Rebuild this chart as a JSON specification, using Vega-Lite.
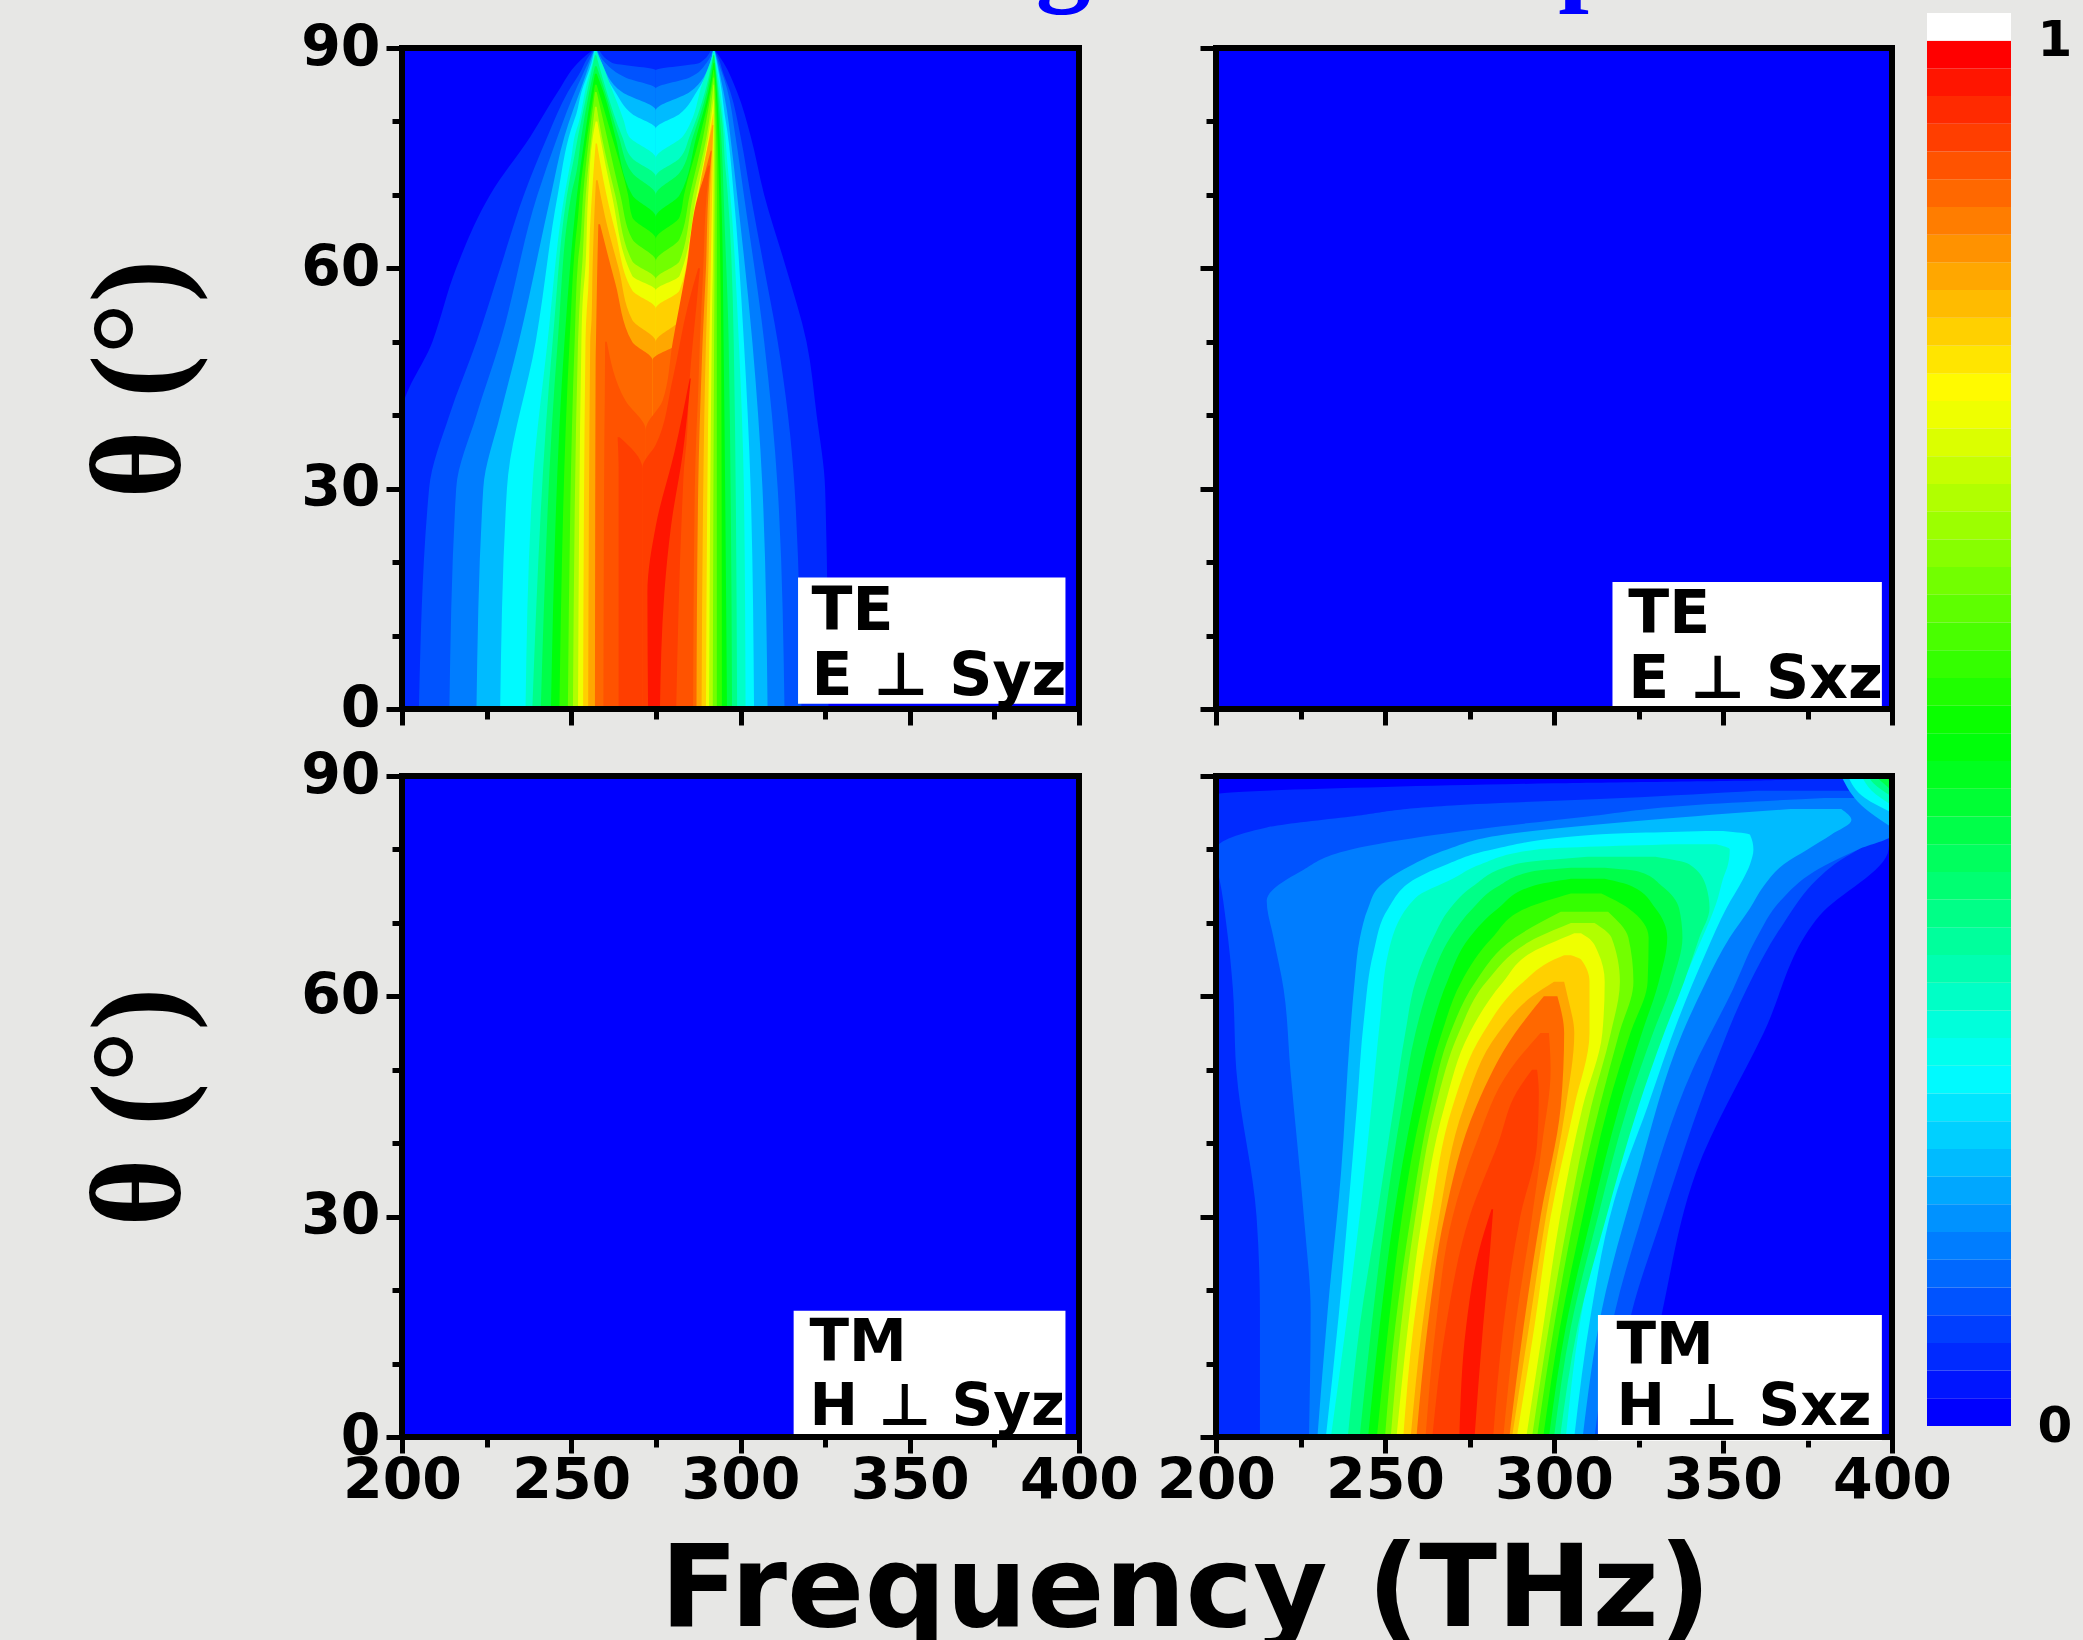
{"$schema":"https://vega.github.io/schema/vega-lite/v6.json","background":"#e7e7e5","padding":{"left":75,"top":-97,"right":100,"bottom":100},
"title":{"text":"g\u00a0\u00a0\u00a0\u00a0\u00a0\u00a0\u00a0\u00a0\u00a0\u00a0\u00a0\u00a0\u00a0\u00a0\u00a0\u00a0\u00a0p","orient":"top","anchor":"start","dx":960,"offset":-1,"font":"Liberation Serif","fontWeight":"bold","fontSize":110,"color":"#0000ff"},
"config":{"view":{"fill":"#0000ff","stroke":null},"axis":{"grid":false,"domain":false,"tickColor":"black","tickWidth":5,"labelFont":"DejaVu Sans","labelFontWeight":"bold","labelFontSize":57,"labelColor":"black","labelOverlap":false,"labelBound":false,"labelFlush":false,"zindex":1}},
"datasets":{"f":[{"f":200,"f2":400,"t":0,"t2":90}],
"a":[
{"v":0.04,"t":0,"a":200,"b":326},{"v":0.04,"t":30,"a":200,"b":325},{"v":0.04,"t":40,"a":200,"b":322.5},{"v":0.04,"t":50,"a":209,"b":319.5},{"v":0.04,"t":60,"a":216,"b":313.5},{"v":0.04,"t":70,"a":226,"b":307},{"v":0.04,"t":78,"a":238,"b":303},{"v":0.04,"t":84,"a":246,"b":299},{"v":0.04,"t":88,"a":252,"b":295},{"v":0.04,"t":90,"a":257,"b":292},
{"v":0.08,"s":"L","t":0,"a":205,"b":275},{"v":0.08,"s":"L","t":30,"a":208,"b":275},{"v":0.08,"s":"L","t":40,"a":214,"b":275},{"v":0.08,"s":"L","t":50,"a":222,"b":275},{"v":0.08,"s":"L","t":60,"a":229,"b":275},{"v":0.08,"s":"L","t":70,"a":236,"b":275},{"v":0.08,"s":"L","t":78,"a":243,"b":275},{"v":0.08,"s":"L","t":84,"a":249,"b":275},{"v":0.08,"s":"L","t":87,"a":253,"b":275},{"v":0.08,"s":"L","t":88,"a":254,"b":262},{"v":0.08,"s":"L","t":90,"a":257,"b":258},
{"v":0.08,"s":"R","t":0,"a":275,"b":318},{"v":0.08,"s":"R","t":30,"a":275,"b":316},{"v":0.08,"s":"R","t":50,"a":275,"b":311},{"v":0.08,"s":"R","t":60,"a":275,"b":307},{"v":0.08,"s":"R","t":70,"a":275,"b":303},{"v":0.08,"s":"R","t":78,"a":275,"b":300},{"v":0.08,"s":"R","t":84,"a":275,"b":297},{"v":0.08,"s":"R","t":87,"a":275,"b":294.6},{"v":0.08,"s":"R","t":88,"a":288,"b":294},{"v":0.08,"s":"R","t":90,"a":291.5,"b":292},
{"v":0.13,"s":"L","t":0,"a":214,"b":275},{"v":0.13,"s":"L","t":30,"a":216,"b":275},{"v":0.13,"s":"L","t":40,"a":222,"b":275},{"v":0.13,"s":"L","t":50,"a":229,"b":275},{"v":0.13,"s":"L","t":70,"a":240,"b":275},{"v":0.13,"s":"L","t":78,"a":246,"b":275},{"v":0.13,"s":"L","t":84.5,"a":251.5,"b":275},{"v":0.13,"s":"L","t":86,"a":253,"b":266},{"v":0.13,"s":"L","t":88,"a":255,"b":260},{"v":0.13,"s":"L","t":90,"a":257,"b":257.5},
{"v":0.13,"s":"R","t":0,"a":275,"b":313},{"v":0.13,"s":"R","t":30,"a":275,"b":311},{"v":0.13,"s":"R","t":50,"a":275,"b":307},{"v":0.13,"s":"R","t":70,"a":275,"b":301},{"v":0.13,"s":"R","t":78,"a":275,"b":298.5},{"v":0.13,"s":"R","t":84.5,"a":275,"b":296},{"v":0.13,"s":"R","t":86,"a":285,"b":295},{"v":0.13,"s":"R","t":88,"a":290,"b":293.5},{"v":0.13,"s":"R","t":90,"a":292,"b":292.2},
{"v":0.19,"s":"L","t":0,"a":222,"b":275},{"v":0.19,"s":"L","t":30,"a":224,"b":275},{"v":0.19,"s":"L","t":40,"a":229,"b":275},{"v":0.19,"s":"L","t":50,"a":234.5,"b":275},{"v":0.19,"s":"L","t":70,"a":244,"b":275},{"v":0.19,"s":"L","t":78,"a":248,"b":275},{"v":0.19,"s":"L","t":81.5,"a":250.5,"b":275},{"v":0.19,"s":"L","t":84,"a":252.5,"b":265},{"v":0.19,"s":"L","t":88,"a":255.5,"b":259},{"v":0.19,"s":"L","t":90,"a":257,"b":257.4},
{"v":0.19,"s":"R","t":0,"a":275,"b":308},{"v":0.19,"s":"R","t":30,"a":275,"b":306.5},{"v":0.19,"s":"R","t":50,"a":275,"b":303.5},{"v":0.19,"s":"R","t":70,"a":275,"b":299},{"v":0.19,"s":"R","t":78,"a":275,"b":297},{"v":0.19,"s":"R","t":81.5,"a":275,"b":296},{"v":0.19,"s":"R","t":84,"a":285,"b":295},{"v":0.19,"s":"R","t":88,"a":291,"b":293.2},{"v":0.19,"s":"R","t":90,"a":292,"b":292.2},
{"v":0.25,"s":"L","t":0,"a":229,"b":275},{"v":0.25,"s":"L","t":30,"a":231,"b":275},{"v":0.25,"s":"L","t":50,"a":239.5,"b":275},{"v":0.25,"s":"L","t":70,"a":246,"b":275},{"v":0.25,"s":"L","t":79,"a":250,"b":275},{"v":0.25,"s":"L","t":81,"a":251.5,"b":268},{"v":0.25,"s":"L","t":84,"a":253,"b":263},{"v":0.25,"s":"L","t":88,"a":256,"b":258.5},{"v":0.25,"s":"L","t":90,"a":257,"b":257.2},
{"v":0.25,"s":"R","t":0,"a":275,"b":304},{"v":0.25,"s":"R","t":30,"a":275,"b":303},{"v":0.25,"s":"R","t":50,"a":275,"b":301},{"v":0.25,"s":"R","t":70,"a":275,"b":298},{"v":0.25,"s":"R","t":79,"a":275,"b":296},{"v":0.25,"s":"R","t":81,"a":282,"b":295.3},{"v":0.25,"s":"R","t":84,"a":287,"b":294.5},{"v":0.25,"s":"R","t":88,"a":291.2,"b":293},{"v":0.25,"s":"R","t":90,"a":292,"b":292.1},
{"v":0.31,"s":"L","t":0,"a":236.5,"b":275},{"v":0.31,"s":"L","t":30,"a":238.5,"b":275},{"v":0.31,"s":"L","t":50,"a":243,"b":275},{"v":0.31,"s":"L","t":70,"a":248,"b":275},{"v":0.31,"s":"L","t":75,"a":250,"b":275},{"v":0.31,"s":"L","t":78,"a":251,"b":267},{"v":0.31,"s":"L","t":80,"a":252.3,"b":265.6},{"v":0.31,"s":"L","t":85,"a":254.5,"b":261.5},{"v":0.31,"s":"L","t":88,"a":256.3,"b":259},{"v":0.31,"s":"L","t":89.5,"a":257,"b":257.5},
{"v":0.31,"s":"R","t":0,"a":275,"b":301.5},{"v":0.31,"s":"R","t":30,"a":275,"b":301},{"v":0.31,"s":"R","t":50,"a":275,"b":299.5},{"v":0.31,"s":"R","t":70,"a":275,"b":297},{"v":0.31,"s":"R","t":75,"a":275,"b":296},{"v":0.31,"s":"R","t":78,"a":283,"b":295.5},{"v":0.31,"s":"R","t":80,"a":285.4,"b":295},{"v":0.31,"s":"R","t":85,"a":288.6,"b":293.8},{"v":0.31,"s":"R","t":88,"a":291,"b":292.7},{"v":0.31,"s":"R","t":89.5,"a":292,"b":292.2},
{"v":0.37,"s":"L","t":0,"a":238.5,"b":275},{"v":0.37,"s":"L","t":50,"a":244.5,"b":275},{"v":0.37,"s":"L","t":72.5,"a":249.7,"b":275},{"v":0.37,"s":"L","t":75,"a":250.8,"b":268},{"v":0.37,"s":"L","t":78,"a":252,"b":265},{"v":0.37,"s":"L","t":84,"a":254.7,"b":260.5},{"v":0.37,"s":"L","t":88,"a":256.5,"b":258},{"v":0.37,"s":"L","t":89,"a":257,"b":257.4},
{"v":0.37,"s":"R","t":0,"a":275,"b":299},{"v":0.37,"s":"R","t":50,"a":275,"b":298},{"v":0.37,"s":"R","t":72.5,"a":275,"b":295.8},{"v":0.37,"s":"R","t":75,"a":282,"b":295.3},{"v":0.37,"s":"R","t":78,"a":285,"b":295},{"v":0.37,"s":"R","t":84,"a":289.5,"b":293.6},{"v":0.37,"s":"R","t":88,"a":291.5,"b":292.5},{"v":0.37,"s":"R","t":89,"a":292,"b":292.2},
{"v":0.43,"s":"L","t":0,"a":241,"b":275},{"v":0.43,"s":"L","t":50,"a":246,"b":275},{"v":0.43,"s":"L","t":70,"a":250,"b":275},{"v":0.43,"s":"L","t":73,"a":251.5,"b":268},{"v":0.43,"s":"L","t":78,"a":253,"b":264},{"v":0.43,"s":"L","t":84,"a":255.3,"b":260},{"v":0.43,"s":"L","t":87.5,"a":257,"b":257.5},
{"v":0.43,"s":"R","t":0,"a":275,"b":297.5},{"v":0.43,"s":"R","t":50,"a":275,"b":296.5},{"v":0.43,"s":"R","t":70,"a":275,"b":295},{"v":0.43,"s":"R","t":73,"a":282,"b":294.8},{"v":0.43,"s":"R","t":78,"a":286,"b":294.3},{"v":0.43,"s":"R","t":84,"a":290,"b":293.3},{"v":0.43,"s":"R","t":89,"a":292,"b":292.2},
{"v":0.49,"s":"L","t":0,"a":244,"b":275},{"v":0.49,"s":"L","t":50,"a":248,"b":275},{"v":0.49,"s":"L","t":67,"a":251,"b":275},{"v":0.49,"s":"L","t":70,"a":251.7,"b":268},{"v":0.49,"s":"L","t":78,"a":254,"b":263},{"v":0.49,"s":"L","t":84,"a":256,"b":259.5},{"v":0.49,"s":"L","t":86.5,"a":257,"b":257.5},
{"v":0.49,"s":"R","t":0,"a":275,"b":296},{"v":0.49,"s":"R","t":50,"a":275,"b":295},{"v":0.49,"s":"R","t":67,"a":275,"b":294.5},{"v":0.49,"s":"R","t":70,"a":282,"b":294.3},{"v":0.49,"s":"R","t":78,"a":287,"b":293.8},{"v":0.49,"s":"R","t":84,"a":290.5,"b":293},{"v":0.49,"s":"R","t":88,"a":292,"b":292.3},
{"v":0.55,"s":"L","t":0,"a":246.5,"b":275},{"v":0.55,"s":"L","t":50,"a":249.5,"b":275},{"v":0.55,"s":"L","t":64,"a":251.3,"b":275},{"v":0.55,"s":"L","t":67,"a":252,"b":268},{"v":0.55,"s":"L","t":70,"a":252.5,"b":266.8},{"v":0.55,"s":"L","t":78,"a":254.7,"b":262},{"v":0.55,"s":"L","t":85,"a":257,"b":257.5},
{"v":0.55,"s":"R","t":0,"a":275,"b":294.5},{"v":0.55,"s":"R","t":50,"a":275,"b":294.3},{"v":0.55,"s":"R","t":64,"a":275,"b":293.9},{"v":0.55,"s":"R","t":67,"a":282,"b":293.8},{"v":0.55,"s":"R","t":70,"a":283.3,"b":293.7},{"v":0.55,"s":"R","t":78,"a":288,"b":293.2},{"v":0.55,"s":"R","t":84,"a":291,"b":292.7},{"v":0.55,"s":"R","t":87,"a":292,"b":292.2},
{"v":0.61,"s":"L","t":0,"a":249,"b":275},{"v":0.61,"s":"L","t":50,"a":251,"b":275},{"v":0.61,"s":"L","t":61,"a":252,"b":275},{"v":0.61,"s":"L","t":64,"a":252.7,"b":268},{"v":0.61,"s":"L","t":70,"a":253.5,"b":264.5},{"v":0.61,"s":"L","t":78,"a":255.3,"b":260.5},{"v":0.61,"s":"L","t":84,"a":257,"b":257.5},
{"v":0.61,"s":"R","t":0,"a":275,"b":293},{"v":0.61,"s":"R","t":50,"a":275,"b":293},{"v":0.61,"s":"R","t":61,"a":275,"b":293},{"v":0.61,"s":"R","t":64,"a":282,"b":293},{"v":0.61,"s":"R","t":70,"a":285,"b":293},{"v":0.61,"s":"R","t":78,"a":289,"b":292.8},{"v":0.61,"s":"R","t":86,"a":292,"b":292.2},
{"v":0.67,"s":"L","t":0,"a":250.5,"b":275},{"v":0.67,"s":"L","t":50,"a":252,"b":275},{"v":0.67,"s":"L","t":58.5,"a":252.9,"b":275},{"v":0.67,"s":"L","t":61,"a":253.3,"b":268},{"v":0.67,"s":"L","t":70,"a":254.3,"b":263},{"v":0.67,"s":"L","t":78,"a":256,"b":259},{"v":0.67,"s":"L","t":82,"a":257,"b":257.5},
{"v":0.67,"s":"R","t":0,"a":275,"b":291.8},{"v":0.67,"s":"R","t":50,"a":275,"b":292.2},{"v":0.67,"s":"R","t":58.5,"a":275,"b":292.3},{"v":0.67,"s":"R","t":61,"a":282,"b":292.3},{"v":0.67,"s":"R","t":70,"a":286,"b":292.4},{"v":0.67,"s":"R","t":78,"a":290,"b":292.4},{"v":0.67,"s":"R","t":85,"a":292,"b":292.2},
{"v":0.73,"s":"L","t":0,"a":252,"b":275},{"v":0.73,"s":"L","t":50,"a":253,"b":275},{"v":0.73,"s":"L","t":57,"a":253.6,"b":275},{"v":0.73,"s":"L","t":59,"a":254,"b":268},{"v":0.73,"s":"L","t":70,"a":255,"b":262},{"v":0.73,"s":"L","t":78,"a":256.4,"b":258.5},{"v":0.73,"s":"L","t":80,"a":257.2,"b":257.7},
{"v":0.73,"s":"R","t":0,"a":275,"b":290.7},{"v":0.73,"s":"R","t":50,"a":275,"b":291.5},{"v":0.73,"s":"R","t":57,"a":275,"b":291.7},{"v":0.73,"s":"R","t":59,"a":282,"b":291.8},{"v":0.73,"s":"R","t":70,"a":287,"b":292},{"v":0.73,"s":"R","t":78,"a":290.5,"b":292.1},{"v":0.73,"s":"R","t":83,"a":292,"b":292.1},
{"v":0.79,"s":"L","t":0,"a":253.5,"b":275},{"v":0.79,"s":"L","t":50,"a":254.2,"b":275},{"v":0.79,"s":"L","t":54.5,"a":254.6,"b":275},{"v":0.79,"s":"L","t":57,"a":255,"b":268},{"v":0.79,"s":"L","t":65,"a":255.5,"b":263},{"v":0.79,"s":"L","t":72,"a":256.4,"b":259.5},{"v":0.79,"s":"L","t":77,"a":257.2,"b":257.6},
{"v":0.79,"s":"R","t":0,"a":275,"b":289.8},{"v":0.79,"s":"R","t":50,"a":275,"b":290.8},{"v":0.79,"s":"R","t":54.5,"a":275,"b":291},{"v":0.79,"s":"R","t":57,"a":282,"b":291.1},{"v":0.79,"s":"R","t":65,"a":285.5,"b":291.4},{"v":0.79,"s":"R","t":72,"a":288.5,"b":291.7},{"v":0.79,"s":"R","t":81,"a":291.9,"b":292},
{"v":0.84,"s":"L","t":0,"a":255,"b":275},{"v":0.84,"s":"L","t":50,"a":255.6,"b":275},{"v":0.84,"s":"L","t":53,"a":256,"b":268},{"v":0.84,"s":"L","t":60,"a":256.3,"b":264},{"v":0.84,"s":"L","t":67,"a":256.8,"b":260},{"v":0.84,"s":"L","t":72,"a":257.3,"b":257.8},
{"v":0.84,"s":"R","t":0,"a":275,"b":288.5},{"v":0.84,"s":"R","t":30,"a":275,"b":289},{"v":0.84,"s":"R","t":50,"a":275,"b":289.8},{"v":0.84,"s":"R","t":53,"a":282,"b":290},{"v":0.84,"s":"R","t":60,"a":284.5,"b":290.5},{"v":0.84,"s":"R","t":70,"a":287.5,"b":291},{"v":0.84,"s":"R","t":79.5,"a":291.7,"b":292},
{"v":0.88,"s":"L","t":0,"a":257,"b":274},{"v":0.88,"s":"L","t":47.5,"a":257.2,"b":274},{"v":0.88,"s":"L","t":50,"a":257.3,"b":268},{"v":0.88,"s":"L","t":58,"a":257.6,"b":263},{"v":0.88,"s":"L","t":66,"a":258,"b":258.5},
{"v":0.88,"s":"R","t":0,"a":274,"b":287},{"v":0.88,"s":"R","t":30,"a":274,"b":287.5},{"v":0.88,"s":"R","t":47.5,"a":274,"b":288.6},{"v":0.88,"s":"R","t":50,"a":282,"b":288.8},{"v":0.88,"s":"R","t":60,"a":285,"b":289.8},{"v":0.88,"s":"R","t":70,"a":288,"b":290.5},{"v":0.88,"s":"R","t":76,"a":291.2,"b":291.5},
{"v":0.91,"s":"L","t":0,"a":259.5,"b":272},{"v":0.91,"s":"L","t":30,"a":259.7,"b":272},{"v":0.91,"s":"L","t":38,"a":259.8,"b":272},{"v":0.91,"s":"L","t":42,"a":259.9,"b":266},{"v":0.91,"s":"L","t":50,"a":260,"b":260.5},
{"v":0.91,"s":"R","t":0,"a":272,"b":286},{"v":0.91,"s":"R","t":30,"a":272,"b":286.5},{"v":0.91,"s":"R","t":38,"a":272,"b":287},{"v":0.91,"s":"R","t":42,"a":277,"b":287.4},{"v":0.91,"s":"R","t":50,"a":280,"b":288},{"v":0.91,"s":"R","t":60,"a":284,"b":289},{"v":0.91,"s":"R","t":70,"a":287.5,"b":290},{"v":0.91,"s":"R","t":74,"a":290.5,"b":291},
{"v":0.93,"s":"L","t":0,"a":264,"b":271},{"v":0.93,"s":"L","t":32.8,"a":264,"b":271},{"v":0.93,"s":"L","t":37,"a":263.7,"b":264.3},
{"v":0.93,"s":"R","t":0,"a":271,"b":281},{"v":0.93,"s":"R","t":30,"a":271,"b":283},{"v":0.93,"s":"R","t":32.8,"a":271,"b":283.3},{"v":0.93,"s":"R","t":36,"a":275,"b":284},{"v":0.93,"s":"R","t":45,"a":280,"b":285},{"v":0.93,"s":"R","t":55,"a":284.5,"b":287},{"v":0.93,"s":"R","t":60,"a":287.5,"b":288},
{"v":0.97,"t":0,"a":272.7,"b":276.2},{"v":0.97,"t":15.8,"a":272.5,"b":277.5},{"v":0.97,"t":25,"a":275,"b":279.5},{"v":0.97,"t":35,"a":280.5,"b":283},{"v":0.97,"t":45,"a":285,"b":285.3}
],
"d":[
{"v":0.04,"t":0,"a":200,"b":325},{"v":0.04,"t":17,"a":200,"b":332},{"v":0.04,"t":36,"a":200,"b":342},{"v":0.04,"t":55,"a":200,"b":362},{"v":0.04,"t":71,"a":200,"b":378.6},{"v":0.04,"t":80,"a":200,"b":399},{"v":0.04,"t":87.5,"a":200,"b":400},{"v":0.04,"t":88.5,"a":250,"b":400},{"v":0.04,"t":89,"a":300,"b":400},{"v":0.04,"t":89.5,"a":370,"b":400},{"v":0.04,"t":90,"a":385,"b":400},
{"v":0.08,"t":0,"a":213,"b":317},{"v":0.08,"t":17,"a":213,"b":323},{"v":0.08,"t":30,"a":212,"b":332},{"v":0.08,"t":50,"a":206,"b":347},{"v":0.08,"t":61,"a":205,"b":357},{"v":0.08,"t":70,"a":203,"b":368},{"v":0.08,"t":76,"a":201,"b":378},{"v":0.08,"t":78,"a":200,"b":383},{"v":0.08,"t":80,"a":200,"b":390},{"v":0.08,"t":83,"a":215,"b":400},{"v":0.08,"t":84.5,"a":240,"b":400},{"v":0.08,"t":86,"a":270,"b":400},{"v":0.08,"t":87,"a":320,"b":400},{"v":0.08,"t":88,"a":360,"b":400},
{"v":0.13,"t":0,"a":227.5,"b":312},{"v":0.13,"t":17,"a":228,"b":318},{"v":0.13,"t":30,"a":226,"b":326},{"v":0.13,"t":50,"a":222,"b":341},{"v":0.13,"t":61,"a":220,"b":353},{"v":0.13,"t":68,"a":217,"b":360},{"v":0.13,"t":73,"a":215,"b":367},{"v":0.13,"t":77,"a":225,"b":377},{"v":0.13,"t":80,"a":240,"b":390},{"v":0.13,"t":82,"a":265,"b":400},{"v":0.13,"t":84.5,"a":310,"b":400},{"v":0.13,"t":86,"a":340,"b":400},{"v":0.13,"t":87,"a":380,"b":400},
{"v":0.19,"t":0,"a":230,"b":308.5},{"v":0.19,"t":17,"a":233,"b":314},{"v":0.19,"t":36,"a":237,"b":325},{"v":0.19,"t":55,"a":239.7,"b":338},{"v":0.19,"t":62,"a":241,"b":345},{"v":0.19,"t":68,"a":242.6,"b":352},{"v":0.19,"t":72,"a":245,"b":358},{"v":0.19,"t":75,"a":248.4,"b":362},{"v":0.19,"t":78,"a":258.4,"b":368},{"v":0.19,"t":80,"a":268.4,"b":375},{"v":0.19,"t":82,"a":285,"b":382},{"v":0.19,"t":84,"a":328,"b":388},{"v":0.19,"t":85.5,"a":370,"b":385},
{"v":0.19,"s":"C","t":83,"a":400,"b":400},{"v":0.19,"s":"C","t":86,"a":391,"b":400},{"v":0.19,"s":"C","t":90,"a":385,"b":400},
{"v":0.25,"t":0,"a":232.5,"b":306},{"v":0.25,"t":17,"a":236.4,"b":311},{"v":0.25,"t":32,"a":239.3,"b":317.7},{"v":0.25,"t":45,"a":241.7,"b":327.7},{"v":0.25,"t":57,"a":243.8,"b":336.9},{"v":0.25,"t":66,"a":246.6,"b":345},{"v":0.25,"t":72,"a":251,"b":351},{"v":0.25,"t":76,"a":259,"b":356},{"v":0.25,"t":78,"a":268.4,"b":358},{"v":0.25,"t":80,"a":281.8,"b":359},{"v":0.25,"t":82,"a":311.8,"b":358},{"v":0.25,"t":82.5,"a":345,"b":350},
{"v":0.25,"s":"C","t":85,"a":400,"b":400},{"v":0.25,"s":"C","t":87,"a":392,"b":400},{"v":0.25,"s":"C","t":90,"a":387,"b":400},
{"v":0.31,"t":0,"a":234,"b":303.5},{"v":0.31,"t":15,"a":238.4,"b":307.5},{"v":0.31,"t":32,"a":243,"b":315},{"v":0.31,"t":45,"a":246,"b":323.5},{"v":0.31,"t":57,"a":248.6,"b":333.5},{"v":0.31,"t":66,"a":251,"b":342},{"v":0.31,"t":73.4,"a":259,"b":348.5},{"v":0.31,"t":76,"a":270,"b":350},{"v":0.31,"t":78,"a":278.4,"b":351.5},{"v":0.31,"t":80,"a":295,"b":352},{"v":0.31,"t":80.7,"a":336,"b":348},
{"v":0.31,"s":"C","t":86,"a":400,"b":400},{"v":0.31,"s":"C","t":88,"a":394,"b":400},{"v":0.31,"s":"C","t":90,"a":391,"b":400},
{"v":0.37,"t":0,"a":239,"b":301.8},{"v":0.37,"t":15,"a":242.5,"b":307},{"v":0.37,"t":30,"a":247.6,"b":315.5},{"v":0.37,"t":45,"a":252.6,"b":325},{"v":0.37,"t":55,"a":256,"b":332.6},{"v":0.37,"t":62,"a":259,"b":338.5},{"v":0.37,"t":68,"a":264.3,"b":343},{"v":0.37,"t":72,"a":269.3,"b":346},{"v":0.37,"t":75,"a":276,"b":345},{"v":0.37,"t":78,"a":288.5,"b":340},{"v":0.37,"t":79,"a":310,"b":330},
{"v":0.37,"s":"C","t":87.2,"a":400,"b":400},{"v":0.37,"s":"C","t":89,"a":394.5,"b":400},{"v":0.37,"s":"C","t":90,"a":393,"b":400},
{"v":0.43,"t":0,"a":242.5,"b":300},{"v":0.43,"t":15,"a":246,"b":305},{"v":0.43,"t":30,"a":250,"b":313},{"v":0.43,"t":45,"a":255,"b":321.8},{"v":0.43,"t":55,"a":259,"b":329.3},{"v":0.43,"t":62,"a":263.4,"b":335},{"v":0.43,"t":68,"a":269.3,"b":338},{"v":0.43,"t":72,"a":276,"b":337},{"v":0.43,"t":75,"a":283.5,"b":332},{"v":0.43,"t":77,"a":293.5,"b":325},{"v":0.43,"t":77.5,"a":305,"b":315},
{"v":0.43,"s":"C","t":88,"a":400,"b":400},{"v":0.43,"s":"C","t":90,"a":395,"b":400},
{"v":0.49,"t":0,"a":245,"b":298.5},{"v":0.49,"t":15,"a":248.4,"b":303.5},{"v":0.49,"t":30,"a":252.6,"b":311},{"v":0.49,"t":45,"a":258.4,"b":319.3},{"v":0.49,"t":55,"a":263.4,"b":326},{"v":0.49,"t":62,"a":268.4,"b":331},{"v":0.49,"t":68,"a":275,"b":333.5},{"v":0.49,"t":72,"a":283.5,"b":330},{"v":0.49,"t":75,"a":293.5,"b":323},{"v":0.49,"t":76,"a":305,"b":315},
{"v":0.49,"s":"C","t":89,"a":400,"b":400},{"v":0.49,"s":"C","t":90,"a":397.5,"b":400},
{"v":0.55,"t":0,"a":247.6,"b":296.8},{"v":0.55,"t":15,"a":251,"b":301.8},{"v":0.55,"t":30,"a":255,"b":308.5},{"v":0.55,"t":45,"a":261,"b":316},{"v":0.55,"t":55,"a":266.8,"b":322.6},{"v":0.55,"t":62,"a":272.6,"b":327.7},{"v":0.55,"t":68,"a":281.8,"b":328},{"v":0.55,"t":72,"a":291.8,"b":322},{"v":0.55,"t":74,"a":305,"b":314},
{"v":0.61,"t":0,"a":250,"b":295},{"v":0.61,"t":15,"a":253,"b":300},{"v":0.61,"t":30,"a":257.6,"b":306},{"v":0.61,"t":45,"a":263.4,"b":313.5},{"v":0.61,"t":55,"a":269.3,"b":319.3},{"v":0.61,"t":62,"a":276.8,"b":323.5},{"v":0.61,"t":68,"a":288.5,"b":322},{"v":0.61,"t":71.5,"a":302,"b":316},
{"v":0.67,"t":0,"a":251.7,"b":293.5},{"v":0.67,"t":15,"a":254.7,"b":298.5},{"v":0.67,"t":30,"a":259,"b":304.3},{"v":0.67,"t":45,"a":265,"b":311},{"v":0.67,"t":55,"a":271.8,"b":316.8},{"v":0.67,"t":62,"a":280,"b":319.5},{"v":0.67,"t":68,"a":295,"b":317},{"v":0.67,"t":70,"a":305,"b":312},
{"v":0.73,"t":0,"a":253.4,"b":291.8},{"v":0.73,"t":15,"a":256.8,"b":296.8},{"v":0.73,"t":30,"a":261,"b":301.8},{"v":0.73,"t":45,"a":267.6,"b":308.5},{"v":0.73,"t":55,"a":275,"b":314.3},{"v":0.73,"t":62,"a":285,"b":315},{"v":0.73,"t":66,"a":293.5,"b":313},{"v":0.73,"t":68,"a":303,"b":310},{"v":0.73,"t":68.6,"a":306,"b":308},
{"v":0.79,"t":0,"a":255.4,"b":289},{"v":0.79,"t":15,"a":258.4,"b":294.2},{"v":0.79,"t":30,"a":263.4,"b":299},{"v":0.79,"t":45,"a":270,"b":306},{"v":0.79,"t":55,"a":279,"b":310.5},{"v":0.79,"t":62,"a":291,"b":310.5},{"v":0.79,"t":65,"a":300,"b":308},{"v":0.79,"t":65.6,"a":303,"b":305},
{"v":0.84,"t":0,"a":257.6,"b":287.6},{"v":0.84,"t":15,"a":261,"b":292.6},{"v":0.84,"t":30,"a":266,"b":297.6},{"v":0.84,"t":45,"a":273.4,"b":303.5},{"v":0.84,"t":55,"a":283.5,"b":306},{"v":0.84,"t":60,"a":293.5,"b":304},{"v":0.84,"t":62,"a":300,"b":303},
{"v":0.88,"t":0,"a":259.3,"b":286.8},{"v":0.88,"t":15,"a":262.6,"b":291},{"v":0.88,"t":30,"a":267.6,"b":296},{"v":0.88,"t":45,"a":277,"b":302},{"v":0.88,"t":55,"a":288.5,"b":303},{"v":0.88,"t":60,"a":297,"b":301},
{"v":0.91,"t":0,"a":262,"b":285},{"v":0.91,"t":15,"a":265,"b":288.5},{"v":0.91,"t":30,"a":270,"b":293.5},{"v":0.91,"t":40,"a":277,"b":296.5},{"v":0.91,"t":50,"a":287,"b":299},{"v":0.91,"t":55,"a":296,"b":298.5},
{"v":0.93,"t":0,"a":264,"b":282},{"v":0.93,"t":15,"a":268,"b":285},{"v":0.93,"t":30,"a":275,"b":290},{"v":0.93,"t":40,"a":283.5,"b":295},{"v":0.93,"t":47,"a":289,"b":295.5},{"v":0.93,"t":50,"a":293.5,"b":295},
{"v":0.97,"t":0,"a":272,"b":276.5},{"v":0.97,"t":15,"a":274,"b":279},{"v":0.97,"t":25,"a":277.6,"b":281},{"v":0.97,"t":31,"a":281.5,"b":282}
]},
"align":"none",
"hconcat":[{"vconcat":[
{"width":1,"height":1,"view":{"fill":null},"data":{"values":[{"x":0}]},"mark":{"type":"rect","opacity":0},"encoding":{}},
{"columns":2,"align":"all","bounds":"flush","spacing":{"column":137,"row":67},
"title":{"text":"Frequency (THz)","orient":"bottom","anchor":"middle","dx":172,"offset":27,"font":"DejaVu Sans","fontWeight":"bold","fontSize":114,"color":"black"},
"concat":[
{"width":677,"height":661,"layer":[
{"data":{"name":"a"},"mark":{"type":"area","orient":"horizontal","interpolate":"monotone"},"encoding":{"y":{"field":"t","type":"quantitative","scale":{"domain":[0,90],"nice":false},"axis":{"values":[0,10,20,30,40,50,60,70,80,90],"labelExpr":"datum.value%30===0?datum.value:''","tickSize":{"condition":{"test":"datum.value%30===0","value":16},"value":10},"title":"θ (°)","titleFont":"Liberation Serif","titleFontWeight":"bold","titleFontSize":130,"titleColor":"black","titlePadding":94,"labelPadding":6}},"x":{"field":"a","type":"quantitative","scale":{"domain":[200,400],"nice":false},"axis":{"values":[200,225,250,275,300,325,350,375,400],"labels":false,"title":null,"tickSize":{"condition":{"test":"datum.value%50===0","value":16},"value":10}}},"x2":{"field":"b"},"color":{"field":"v","type":"quantitative","legend":null,"scale":{"type":"quantize","domain":[0,1.02]}},"detail":[{"field":"v","type":"nominal"},{"field":"s","type":"nominal"}]}},
{"data":{"values":[{"f":317,"f2":396,"t":0.7,"t2":17.9}]},"mark":{"type":"rect","fill":"white"},"encoding":{"x":{"field":"f","type":"quantitative"},"x2":{"field":"f2"},"y":{"field":"t","type":"quantitative"},"y2":{"field":"t2"}}},
{"data":{"values":[{"f":321,"t":13.2,"s":"TE"},{"f":321,"t":4.3,"s":"E ⊥ Syz"}]},"mark":{"type":"text","align":"left","baseline":"middle","font":"DejaVu Sans","fontWeight":"bold","fontSize":60,"color":"black"},"encoding":{"x":{"field":"f","type":"quantitative"},"y":{"field":"t","type":"quantitative"},"text":{"field":"s"}}},
{"data":{"name":"f"},"mark":{"type":"rect","filled":false,"stroke":"black","strokeWidth":6},"encoding":{"x":{"field":"f","type":"quantitative"},"x2":{"field":"f2"},"y":{"field":"t","type":"quantitative"},"y2":{"field":"t2"}}}
]},
{"width":676,"height":661,"layer":[
{"data":{"values":[{"f":317.3,"f2":397,"t":0,"t2":17.3}]},"mark":{"type":"rect","fill":"white"},"encoding":{"x":{"field":"f","type":"quantitative","scale":{"domain":[200,400],"nice":false},"axis":{"values":[200,225,250,275,300,325,350,375,400],"labels":false,"title":null,"tickSize":{"condition":{"test":"datum.value%50===0","value":16},"value":10}}},"x2":{"field":"f2"},"y":{"field":"t","type":"quantitative","scale":{"domain":[0,90],"nice":false},"axis":{"values":[0,10,20,30,40,50,60,70,80,90],"labels":false,"title":null,"tickSize":{"condition":{"test":"datum.value%30===0","value":16},"value":10}}},"y2":{"field":"t2"}}},
{"data":{"values":[{"f":322,"t":12.8,"s":"TE"},{"f":322,"t":4,"s":"E ⊥ Sxz"}]},"mark":{"type":"text","align":"left","baseline":"middle","font":"DejaVu Sans","fontWeight":"bold","fontSize":60,"color":"black"},"encoding":{"x":{"field":"f","type":"quantitative"},"y":{"field":"t","type":"quantitative"},"text":{"field":"s"}}},
{"data":{"name":"f"},"mark":{"type":"rect","filled":false,"stroke":"black","strokeWidth":6},"encoding":{"x":{"field":"f","type":"quantitative"},"x2":{"field":"f2"},"y":{"field":"t","type":"quantitative"},"y2":{"field":"t2"}}}
]},
{"width":677,"height":661,"layer":[
{"data":{"values":[{"f":315.7,"f2":396,"t":0,"t2":17.2}]},"mark":{"type":"rect","fill":"white"},"encoding":{"x":{"field":"f","type":"quantitative","scale":{"domain":[200,400],"nice":false},"axis":{"values":[200,225,250,275,300,325,350,375,400],"labelExpr":"datum.value%50===0?datum.value:''","title":null,"labelPadding":0,"tickSize":{"condition":{"test":"datum.value%50===0","value":16},"value":10}}},"x2":{"field":"f2"},"y":{"field":"t","type":"quantitative","scale":{"domain":[0,90],"nice":false},"axis":{"values":[0,10,20,30,40,50,60,70,80,90],"labelExpr":"datum.value%30===0?datum.value:''","tickSize":{"condition":{"test":"datum.value%30===0","value":16},"value":10},"title":"θ (°)","titleFont":"Liberation Serif","titleFontWeight":"bold","titleFontSize":130,"titleColor":"black","titlePadding":94,"labelPadding":6}},"y2":{"field":"t2"}}},
{"data":{"values":[{"f":320.4,"t":12.6,"s":"TM"},{"f":320.4,"t":4,"s":"H ⊥ Syz"}]},"mark":{"type":"text","align":"left","baseline":"middle","font":"DejaVu Sans","fontWeight":"bold","fontSize":58,"color":"black"},"encoding":{"x":{"field":"f","type":"quantitative"},"y":{"field":"t","type":"quantitative"},"text":{"field":"s"}}},
{"data":{"name":"f"},"mark":{"type":"rect","filled":false,"stroke":"black","strokeWidth":6},"encoding":{"x":{"field":"f","type":"quantitative"},"x2":{"field":"f2"},"y":{"field":"t","type":"quantitative"},"y2":{"field":"t2"}}}
]},
{"width":676,"height":661,"layer":[
{"data":{"name":"d"},"mark":{"type":"area","orient":"horizontal","interpolate":"monotone"},"encoding":{"y":{"field":"t","type":"quantitative","scale":{"domain":[0,90],"nice":false},"axis":{"values":[0,10,20,30,40,50,60,70,80,90],"labels":false,"title":null,"tickSize":{"condition":{"test":"datum.value%30===0","value":16},"value":10}}},"x":{"field":"a","type":"quantitative","scale":{"domain":[200,400],"nice":false},"axis":{"values":[200,225,250,275,300,325,350,375,400],"labelExpr":"datum.value%50===0?datum.value:''","title":null,"labelPadding":0,"tickSize":{"condition":{"test":"datum.value%50===0","value":16},"value":10}}},"x2":{"field":"b"},"color":{"field":"v","type":"quantitative","legend":null,"scale":{"type":"quantize","domain":[0,1.02]}},"detail":[{"field":"v","type":"nominal"},{"field":"s","type":"nominal"}]}},
{"data":{"values":[{"f":313,"f2":397,"t":-0.5,"t2":16.6}]},"mark":{"type":"rect","fill":"white"},"encoding":{"x":{"field":"f","type":"quantitative"},"x2":{"field":"f2"},"y":{"field":"t","type":"quantitative"},"y2":{"field":"t2"}}},
{"data":{"values":[{"f":318.5,"t":12.3,"s":"TM"},{"f":318.5,"t":4,"s":"H ⊥ Sxz"}]},"mark":{"type":"text","align":"left","baseline":"middle","font":"DejaVu Sans","fontWeight":"bold","fontSize":58,"color":"black"},"encoding":{"x":{"field":"f","type":"quantitative"},"y":{"field":"t","type":"quantitative"},"text":{"field":"s"}}},
{"data":{"name":"f"},"mark":{"type":"rect","filled":false,"stroke":"black","strokeWidth":6},"encoding":{"x":{"field":"f","type":"quantitative"},"x2":{"field":"f2"},"y":{"field":"t","type":"quantitative"},"y2":{"field":"t2"}}}
]}
]}],"spacing":5},
{"width":84,"height":1413,"view":{"fill":null},"data":{"values":[{"lo":0,"hi":0.02,"v":0.01},{"lo":0.02,"hi":0.04,"v":0.03},{"lo":0.04,"hi":0.06,"v":0.05},{"lo":0.06,"hi":0.08,"v":0.07},{"lo":0.08,"hi":0.1,"v":0.09},{"lo":0.1,"hi":0.12,"v":0.11},{"lo":0.12,"hi":0.14,"v":0.13},{"lo":0.14,"hi":0.16,"v":0.15},{"lo":0.16,"hi":0.18,"v":0.17},{"lo":0.18,"hi":0.2,"v":0.19},{"lo":0.2,"hi":0.22,"v":0.21},{"lo":0.22,"hi":0.24,"v":0.23},{"lo":0.24,"hi":0.26,"v":0.25},{"lo":0.26,"hi":0.28,"v":0.27},{"lo":0.28,"hi":0.3,"v":0.29},{"lo":0.3,"hi":0.32,"v":0.31},{"lo":0.32,"hi":0.34,"v":0.33},{"lo":0.34,"hi":0.36,"v":0.35},{"lo":0.36,"hi":0.38,"v":0.37},{"lo":0.38,"hi":0.4,"v":0.39},{"lo":0.4,"hi":0.42,"v":0.41},{"lo":0.42,"hi":0.44,"v":0.43},{"lo":0.44,"hi":0.46,"v":0.45},{"lo":0.46,"hi":0.48,"v":0.47},{"lo":0.48,"hi":0.5,"v":0.49},{"lo":0.5,"hi":0.52,"v":0.51},{"lo":0.52,"hi":0.54,"v":0.53},{"lo":0.54,"hi":0.56,"v":0.55},{"lo":0.56,"hi":0.58,"v":0.57},{"lo":0.58,"hi":0.6,"v":0.59},{"lo":0.6,"hi":0.62,"v":0.61},{"lo":0.62,"hi":0.64,"v":0.63},{"lo":0.64,"hi":0.66,"v":0.65},{"lo":0.66,"hi":0.68,"v":0.67},{"lo":0.68,"hi":0.7,"v":0.69},{"lo":0.7,"hi":0.72,"v":0.71},{"lo":0.72,"hi":0.74,"v":0.73},{"lo":0.74,"hi":0.76,"v":0.75},{"lo":0.76,"hi":0.78,"v":0.77},{"lo":0.78,"hi":0.8,"v":0.79},{"lo":0.8,"hi":0.82,"v":0.81},{"lo":0.82,"hi":0.84,"v":0.83},{"lo":0.84,"hi":0.86,"v":0.85},{"lo":0.86,"hi":0.88,"v":0.87},{"lo":0.88,"hi":0.9,"v":0.89},{"lo":0.9,"hi":0.92,"v":0.91},{"lo":0.92,"hi":0.94,"v":0.93},{"lo":0.94,"hi":0.96,"v":0.95},{"lo":0.96,"hi":0.98,"v":0.97},{"lo":0.98,"hi":1,"v":0.99},{"lo":1,"hi":1.02,"v":1.01}]},"mark":{"type":"rect"},"encoding":{"y":{"field":"lo","type":"quantitative","scale":{"domain":[0,1.02],"nice":false},"axis":{"orient":"right","values":[0,1],"format":"d","title":null,"ticks":false,"labelFontSize":50,"labelPadding":26}},"y2":{"field":"hi"},"color":{"field":"v","type":"quantitative","legend":null,"scale":{"type":"quantize","domain":[0,1.02],"range":["#0000ff","#0015ff","#002aff","#003eff","#0053ff","#0068ff","#007dff","#0092ff","#00a7ff","#00bbff","#00d0ff","#00e5ff","#00faff","#00ffef","#00ffdb","#00ffc6","#00ffb1","#00ff9c","#00ff87","#00ff72","#00ff5e","#00ff49","#00ff34","#00ff1f","#00ff0a","#0aff00","#1fff00","#34ff00","#49ff00","#5eff00","#72ff00","#87ff00","#9cff00","#b1ff00","#c6ff00","#dbff00","#efff00","#fffa00","#ffe500","#ffd000","#ffbb00","#ffa700","#ff9200","#ff7d00","#ff6800","#ff5300","#ff3e00","#ff2a00","#ff1500","#ff0000","#ffffff"]}}}}
],"spacing":-25}
